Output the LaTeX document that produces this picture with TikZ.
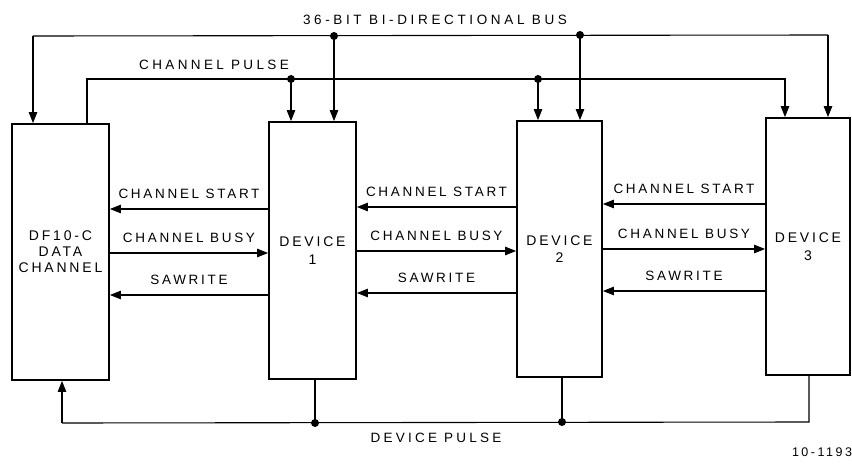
\documentclass[tikz,border=0pt]{standalone}
\usepackage{fontspec}
\setmainfont{Liberation Sans}[LetterSpace=20]
\usetikzlibrary{arrows.meta,calc}
\begin{document}
\begin{tikzpicture}[x=1pt,y=-1pt,
  box/.style={draw, line width=1.8pt, inner sep=0pt, align=center,
    font=\fontsize{14}{16}\selectfont},
  wire/.style={line width=1.1pt},
  arr/.style={wire, -{Triangle[length=11pt,width=8.5pt]}},
  jdot/.style={circle, fill, inner sep=0pt, minimum size=8pt},
  lbl/.style={font=\fontsize{13.5}{15}\selectfont, inner sep=0pt}]
\useasboundingbox (0,0) rectangle (852,466);

% boxes
\node[box, minimum width=97pt, minimum height=256pt] (L) at (60.5,252) {DF10-C\\DATA\\CHANNEL};
\node[box, minimum width=87pt, minimum height=257pt] (D1) at (312.5,250.5) {DEVICE\\[1.5pt]1};
\node[box, minimum width=85pt, minimum height=256pt] (D2) at (559.5,249) {DEVICE\\[1.5pt]2};
\node[box, minimum width=84pt, minimum height=257pt] (D3) at (808,246.5) {DEVICE\\[1.5pt]3};

% 36-bit bus
\coordinate (bL) at (33,36);
\coordinate (b1) at (334,36);
\coordinate (b2) at (580,35);
\coordinate (bR) at (828,35);
\draw[wire] (bL) -- (bR);
\draw[arr] (bL) -- (bL |- L.north);
\draw[arr] (b1) -- (b1 |- D1.north);
\draw[arr] (b2) -- (b2 |- D2.north);
\draw[arr] (bR) -- (bR |- D3.north);
\node[jdot] at (b1) {};
\node[jdot] at (b2) {};
\node[lbl, font=\fontsize{13.5}{15}\selectfont\addfontfeature{LetterSpace=27}] (buslbl) at (435,20) {36-BIT BI-DIRECTIONAL BUS};

% channel pulse
\coordinate (pL) at (87,79);
\coordinate (p1) at (291,79);
\coordinate (p2) at (538,79);
\coordinate (pR) at (785,79);
\draw[arr] (L.north -| pL) -- (pL) -- (pR) -- (pR |- D3.north);
\draw[arr] (p1) -- (p1 |- D1.north);
\draw[arr] (p2) -- (p2 |- D2.north);
\node[jdot] at (p1) {};
\node[jdot] at (p2) {};
\node[lbl, font=\fontsize{13.5}{15}\selectfont\addfontfeature{LetterSpace=25}] (cplbl) at (214,65) {CHANNEL PULSE};

% signal levels
\coordinate (s1) at (0,209);
\coordinate (u1) at (0,253);
\coordinate (w1) at (0,295);
\coordinate (s2) at (0,207);
\coordinate (u2) at (0,251);
\coordinate (w2) at (0,293);
\coordinate (s3) at (0,204);
\coordinate (u3) at (0,249);
\coordinate (w3) at (0,291);

\draw[arr] (D1.west |- s1) -- node[lbl, above=10pt] {CHANNEL START} (L.east |- s1);
\draw[arr] (L.east |- u1) -- node[lbl, above=10pt] {CHANNEL BUSY} (D1.west |- u1);
\draw[arr] (D1.west |- w1) -- node[lbl, above=10pt] {SAWRITE} (L.east |- w1);

\draw[arr] (D2.west |- s2) -- node[lbl, above=10pt] {CHANNEL START} (D1.east |- s2);
\draw[arr] (D1.east |- u2) -- node[lbl, above=10pt] {CHANNEL BUSY} (D2.west |- u2);
\draw[arr] (D2.west |- w2) -- node[lbl, above=10pt] {SAWRITE} (D1.east |- w2);

\draw[arr] (D3.west |- s3) -- node[lbl, above=10pt] {CHANNEL START} (D2.east |- s3);
\draw[arr] (D2.east |- u3) -- node[lbl, above=10pt] {CHANNEL BUSY} (D3.west |- u3);
\draw[arr] (D3.west |- w3) -- node[lbl, above=10pt] {SAWRITE} (D2.east |- w3);

% device pulse
\coordinate (q0) at (62,423);
\coordinate (q1) at (315,423);
\coordinate (q2) at (562,422);
\coordinate (q3) at (809,422);
\draw[wire] (D3.south -| q3) -- (q3) -- (q0);
\draw[arr] (q0) -- (q0 |- L.south);
\draw[wire] (D1.south -| q1) -- (q1);
\draw[wire] (D2.south -| q2) -- (q2);
\node[jdot] at (q1) {};
\node[jdot] at (q2) {};
\node[lbl, font=\fontsize{13.5}{15}\selectfont\addfontfeature{LetterSpace=24}] (dplbl) at (436,438) {DEVICE PULSE};

\node[lbl, font=\fontsize{12.5}{14}\selectfont] (fig) at (822,452) {10-1193};
\end{tikzpicture}
\end{document}
